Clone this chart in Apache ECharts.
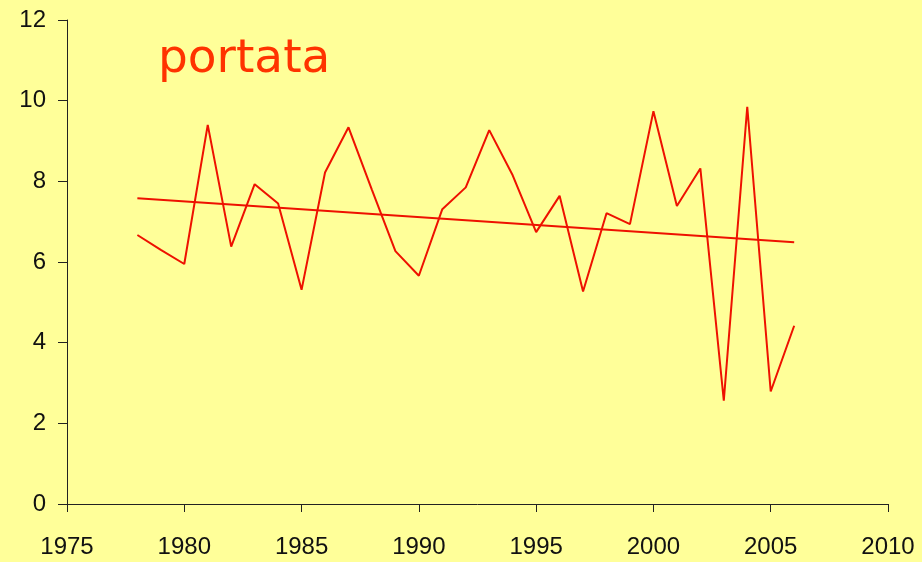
<!DOCTYPE html>
<html>
<head>
<meta charset="utf-8">
<script src="https://cdn.jsdelivr.net/npm/echarts@6/dist/echarts.min.js"></script>
<style>
html,body{margin:0;padding:0;background:#ffff99;}
#c{width:922px;height:562px;}
</style>
</head>
<body>
<div id="c"></div>
<script>
var years = [1978,1979,1980,1981,1982,1983,1984,1985,1986,1987,1988,1989,1990,1991,1992,1993,1994,1995,1996,1997,1998,1999,2000,2001,2002,2003,2004,2005,2006];
var portata = [6.67,6.30,5.95,9.40,6.38,7.93,7.45,5.31,8.22,9.34,7.79,6.27,5.66,7.31,7.85,9.27,8.15,6.74,7.64,5.27,7.21,6.94,9.74,7.39,8.32,2.56,9.85,2.79,4.42];
var trendYears = [1978,2006];
var trendValues = [7.58,6.49];
var titleText = 'portata';

var chart = echarts.init(document.getElementById('c'));
var lineData = years.map(function(y,i){return [y, portata[i]];});
var trendData = trendYears.map(function(y,i){return [y, trendValues[i]];});
chart.setOption({
  backgroundColor:'#ffff99',
  animation:false,
  title:{text:titleText,left:158,top:36,padding:0,textStyle:{color:'#ff3300',fontSize:47,fontWeight:'normal',fontFamily:'DejaVu Sans'}},
  grid:{left:67,right:34,top:20,bottom:58},
  xAxis:{type:'value',min:1975,max:2010,interval:5,
    axisLine:{show:true,lineStyle:{color:'#222',width:1}},
    axisTick:{show:true,length:8,lineStyle:{color:'#222'}},
    axisLabel:{color:'#111',fontSize:24,fontFamily:'Liberation Sans',margin:31,showMinLabel:true,showMaxLabel:true,
      formatter:function(v){return String(v);}},
    splitLine:{show:false}},
  yAxis:{type:'value',min:0,max:12,interval:2,
    axisLine:{show:true,lineStyle:{color:'#222',width:1}},
    axisTick:{show:true,length:9,lineStyle:{color:'#222'}},
    axisLabel:{color:'#111',fontSize:24,fontFamily:'Liberation Sans',margin:21},
    splitLine:{show:false}},
  series:[
    {type:'line',data:lineData,symbol:'none',lineStyle:{color:'#ee1100',width:2},z:3},
    {type:'line',data:trendData,symbol:'none',lineStyle:{color:'#ee1100',width:2},z:2}
  ]
});
</script>
</body>
</html>
